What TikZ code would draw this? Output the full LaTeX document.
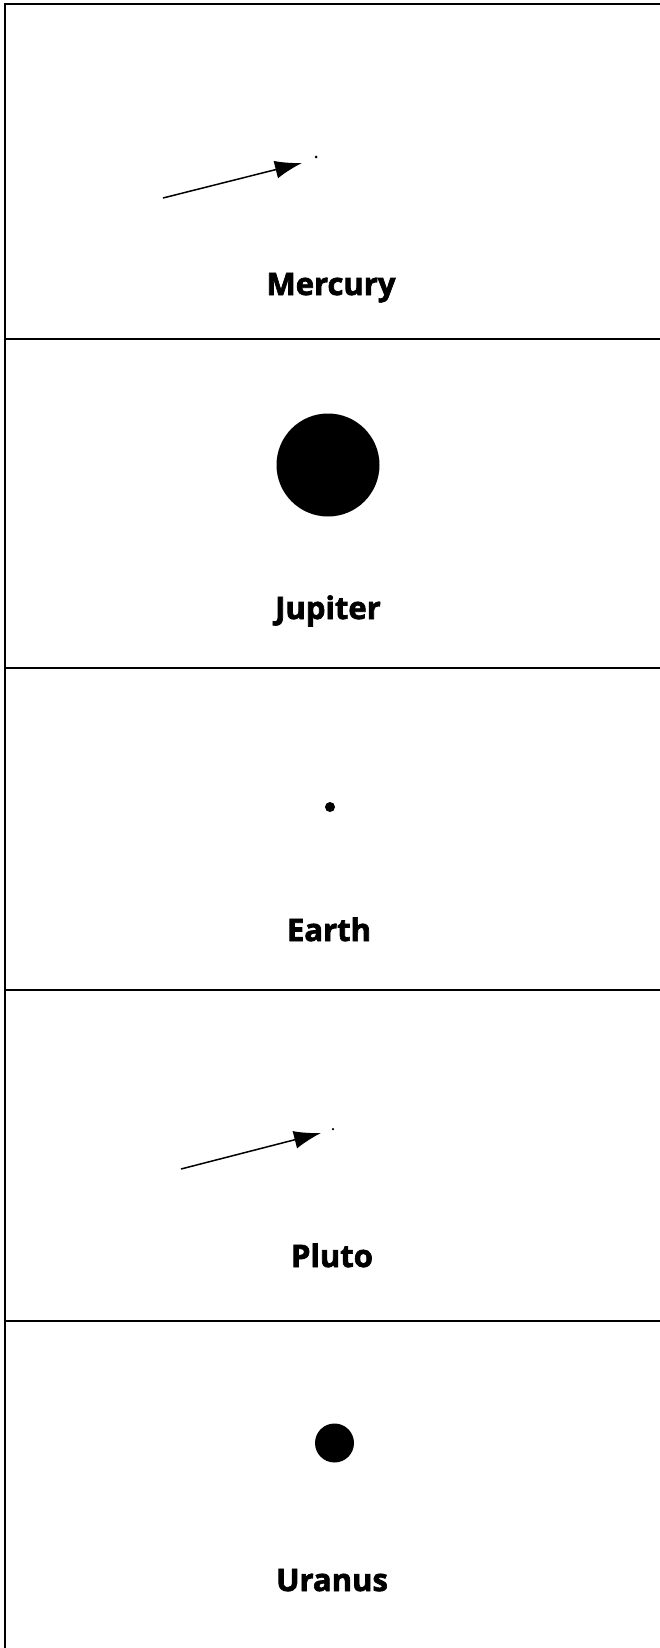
\documentclass[tikz,border=0pt]{standalone}
\usepackage{fontspec}
\setmainfont{Open Sans}
\newfontfamily\heavyfont[BoldFeatures={FakeBold=2.2}]{Open Sans}
\usetikzlibrary{arrows.meta}

\tikzset{
  planetlabel/.style={anchor=base,font=\heavyfont\fontsize{31}{33}\selectfont\bfseries},
  planet/.style={circle,fill=black,inner sep=0pt},
  frameline/.style={line width=2pt,black},
  pointer/.style={line width=1.5pt,-{Latex[length=27pt,width=18pt]}}
}

\begin{document}
\begin{tikzpicture}[x=1pt,y=-1pt]
  \useasboundingbox (0,0) rectangle (660,1648);

  % frame and dividers
  \draw[frameline] (660,4) -- (5,4) -- (5,1648);
  \foreach \yy in {339,668,990,1321}
    \draw[frameline] (5,\yy) -- (660,\yy);

  % Mercury
  \node[planet,minimum size=3pt] (mercury) at (316,157) {};
  \coordinate (mtail) at (163,198);
  \coordinate (mtip) at (302,163);
  \draw[pointer] (mtail) -- (mtip);
  \node[planetlabel] (lmercury) at (331,295) {Mercury};

  % Jupiter
  \node[planet,minimum size=103pt] (jupiter) at (328,465) {};
  \node[planetlabel] (ljupiter) at (328,619) {Jupiter};

  % Earth
  \node[planet,minimum size=10pt] (earth) at (330,807) {};
  \node[planetlabel] (learth) at (329,941) {Earth};

  % Pluto
  \node[planet,minimum size=2.5pt] (pluto) at (333,1129) {};
  \coordinate (ptail) at (181,1169);
  \coordinate (ptip) at (321,1133);
  \draw[pointer] (ptail) -- (ptip);
  \node[planetlabel] (lpluto) at (332,1267) {Pluto};

  % Uranus
  \node[planet,minimum size=39pt] (uranus) at (334.5,1443) {};
  \node[planetlabel] (luranus) at (332,1591) {Uranus};
\end{tikzpicture}
\end{document}
